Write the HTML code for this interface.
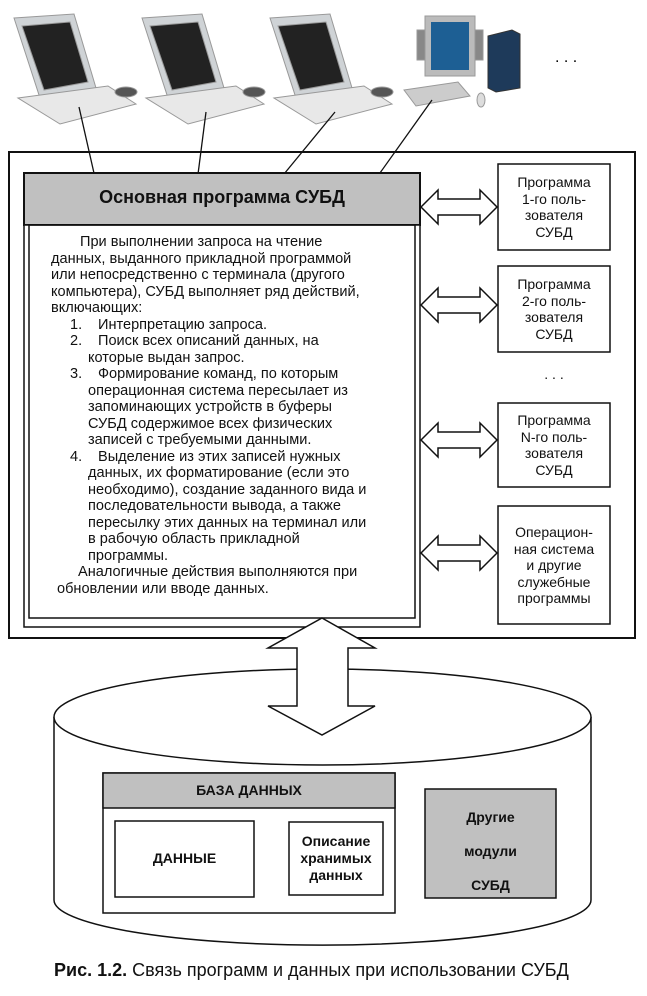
<!DOCTYPE html>
<html><head><meta charset="utf-8"><style>
body{margin:0;background:#fff;width:647px;height:996px;position:relative;overflow:hidden;font-family:"Liberation Sans",Arial,sans-serif;color:#111}
.a{position:absolute}
.txt{font-size:14px;line-height:16.4px}
.c{text-align:center}
.l{position:absolute;white-space:nowrap;font-size:15px;line-height:16px;transform:scaleX(0.97);transform-origin:0 0}
</style></head><body>
<svg class="a" style="left:0;top:0" width="647" height="996">
<g fill="#d8d8d8" stroke="#999" stroke-width="1">
 <g><polygon points="14,18 74,14 96,88 40,98" fill="#cfd3d6"/><polygon points="22,26 70,22 88,82 44,90" fill="#222"/><polygon points="18,98 108,86 136,104 60,124" fill="#e8e8e8"/><ellipse cx="126" cy="92" rx="11" ry="5" fill="#555"/></g>
 <g transform="translate(128,0)"><polygon points="14,18 74,14 96,88 40,98" fill="#cfd3d6"/><polygon points="22,26 70,22 88,82 44,90" fill="#222"/><polygon points="18,98 108,86 136,104 60,124" fill="#e8e8e8"/><ellipse cx="126" cy="92" rx="11" ry="5" fill="#555"/></g>
 <g transform="translate(256,0)"><polygon points="14,18 74,14 96,88 40,98" fill="#cfd3d6"/><polygon points="22,26 70,22 88,82 44,90" fill="#222"/><polygon points="18,98 108,86 136,104 60,124" fill="#e8e8e8"/><ellipse cx="126" cy="92" rx="11" ry="5" fill="#555"/></g>
 <rect x="425" y="16" width="50" height="60" fill="#bbb"/><rect x="431" y="22" width="38" height="48" fill="#1d5f94" stroke="none"/>
 <rect x="417" y="30" width="8" height="30" fill="#888"/><rect x="475" y="30" width="8" height="30" fill="#888"/>
 <polygon points="488,36 512,30 520,34 520,88 496,92 488,88" fill="#1e3a5a" stroke="#333"/>
 <polygon points="404,90 458,82 470,96 416,106" fill="#ccc"/>
 <ellipse cx="481" cy="100" rx="4" ry="7" fill="#ddd"/>
</g>
<text x="555" y="62" font-size="16" font-family="Liberation Sans">. . .</text>
<g stroke="#111" stroke-width="1.3">
 <line x1="79" y1="107" x2="96" y2="182"/><line x1="206" y1="112" x2="197" y2="182"/>
 <line x1="335" y1="112" x2="275" y2="185"/><line x1="432" y1="100" x2="370" y2="187"/>
</g>
<rect x="9" y="152" width="626" height="486" fill="none" stroke="#111" stroke-width="2"/>
<rect x="24" y="173" width="396" height="52" fill="#c0c0c0" stroke="#111" stroke-width="2"/>
<rect x="24" y="225" width="396" height="402" fill="#fff" stroke="#111" stroke-width="1.5"/>
<rect x="29" y="225" width="386" height="393" fill="none" stroke="#111" stroke-width="1.5"/>
<g fill="#fff" stroke="#111" stroke-width="1.5">
 <rect x="498" y="164" width="112" height="86"/><rect x="498" y="266" width="112" height="86"/>
 <rect x="498" y="403" width="112" height="84"/><rect x="498" y="506" width="112" height="118"/>
</g>
<g fill="#fff" stroke="#111" stroke-width="1.5">
 <polygon points="421,207 438,190 438,199 480,199 480,190 497,207 480,224 480,215 438,215 438,224"/>
 <polygon points="421,305 438,288 438,297 480,297 480,288 497,305 480,322 480,313 438,313 438,322"/>
 <polygon points="421,440 438,423 438,432 480,432 480,423 497,440 480,457 480,448 438,448 438,457"/>
 <polygon points="421,553 438,536 438,545 480,545 480,536 497,553 480,570 480,561 438,561 438,570"/>
</g>
<path d="M54,717 L54,900 A268,45 0 0 0 591,900 L591,717" fill="#fff" stroke="#111" stroke-width="1.5"/>
<ellipse cx="322.5" cy="717" rx="268.5" ry="48" fill="#fff" stroke="#111" stroke-width="1.5"/>
<polygon points="322,618 375,648 348,648 348,706 375,706 322,735 268,706 297,706 297,648 268,648" fill="#fff" stroke="#111" stroke-width="1.5"/>
<rect x="103" y="773" width="292" height="140" fill="#fff" stroke="#111" stroke-width="1.5"/>
<rect x="103" y="773" width="292" height="35" fill="#c0c0c0" stroke="#111" stroke-width="1.5"/>
<rect x="115" y="821" width="139" height="76" fill="#fff" stroke="#111" stroke-width="1.5"/>
<rect x="289" y="822" width="94" height="73" fill="#fff" stroke="#111" stroke-width="1.5"/>
<rect x="425" y="789" width="131" height="109" fill="#c0c0c0" stroke="#111" stroke-width="1.5"/>
</svg>
<div class="a c" style="left:24px;top:187px;width:396px;font-size:18px;font-weight:bold">Основная программа СУБД</div>
<div class="l" style="left:80px;top:234px">При выполнении запроса на чтение</div>
<div class="l" style="left:51px;top:250.5px">данных, выданного прикладной программой</div>
<div class="l" style="left:51px;top:267px">или непосредственно с терминала (другого</div>
<div class="l" style="left:51px;top:283.5px">компьютера), СУБД выполняет ряд действий,</div>
<div class="l" style="left:51px;top:300px">включающих:</div>
<div class="l" style="left:70px;top:316.5px">1.</div><div class="l" style="left:98px;top:316.5px">Интерпретацию запроса.</div>
<div class="l" style="left:70px;top:333px">2.</div><div class="l" style="left:98px;top:333px">Поиск всех описаний данных, на</div>
<div class="l" style="left:88px;top:349.5px">которые выдан запрос.</div>
<div class="l" style="left:70px;top:366px">3.</div><div class="l" style="left:98px;top:366px">Формирование команд, по которым</div>
<div class="l" style="left:88px;top:382.5px">операционная система пересылает из</div>
<div class="l" style="left:88px;top:399px">запоминающих устройств в буферы</div>
<div class="l" style="left:88px;top:415.5px">СУБД содержимое всех физических</div>
<div class="l" style="left:88px;top:432px">записей с требуемыми данными.</div>
<div class="l" style="left:70px;top:448.5px">4.</div><div class="l" style="left:98px;top:448.5px">Выделение из этих записей нужных</div>
<div class="l" style="left:88px;top:465px">данных, их форматирование (если это</div>
<div class="l" style="left:88px;top:481.5px">необходимо), создание заданного вида и</div>
<div class="l" style="left:88px;top:498px">последовательности вывода, а также</div>
<div class="l" style="left:88px;top:514.5px">пересылку этих данных на терминал или</div>
<div class="l" style="left:88px;top:531px">в рабочую область прикладной</div>
<div class="l" style="left:88px;top:547.5px">программы.</div>
<div class="l" style="left:78px;top:564px">Аналогичные действия выполняются при</div>
<div class="l" style="left:57px;top:580.5px">обновлении или вводе данных.</div>
<div class="a c txt" style="left:498px;top:174px;width:112px;line-height:16.5px">Программа<br>1-го поль-<br>зователя<br>СУБД</div>
<div class="a c txt" style="left:498px;top:276px;width:112px;line-height:16.5px">Программа<br>2-го поль-<br>зователя<br>СУБД</div>
<div class="a c" style="left:498px;top:366px;width:112px;font-size:14px">. . .</div>
<div class="a c txt" style="left:498px;top:412px;width:112px;line-height:16.5px">Программа<br>N-го поль-<br>зователя<br>СУБД</div>
<div class="a c txt" style="left:498px;top:524px;width:112px;line-height:16.5px">Операцион-<br>ная система<br>и другие<br>служебные<br>программы</div>
<div class="a c" style="left:103px;top:782px;width:292px;font-size:14px;font-weight:bold">БАЗА ДАННЫХ</div>
<div class="a c" style="left:115px;top:850px;width:139px;font-size:14px;font-weight:bold">ДАННЫЕ</div>
<div class="a c" style="left:289px;top:833px;width:94px;font-size:14px;font-weight:bold;line-height:17px">Описание<br>хранимых<br>данных</div>
<div class="a c" style="left:425px;top:800px;width:131px;font-size:14px;font-weight:bold;line-height:34px">Другие<br>модули<br>СУБД</div>
<div class="a" style="left:54px;top:960px;font-size:18px;white-space:nowrap;transform:scaleX(1.0);transform-origin:0 0"><b>Рис. 1.2.</b> Связь программ и данных при использовании СУБД</div>
</body></html>
